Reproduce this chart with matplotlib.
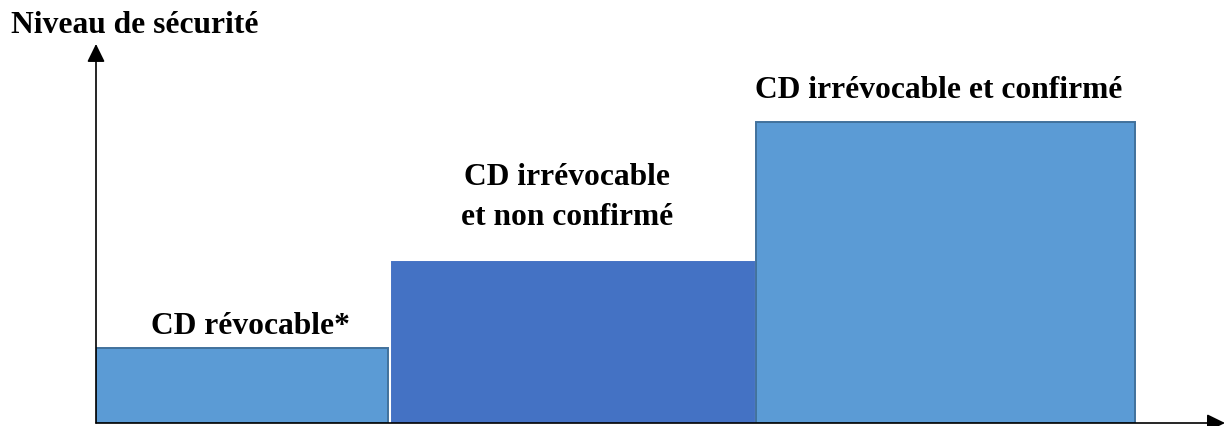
import matplotlib
matplotlib.use("Agg")
import matplotlib.pyplot as plt

# niveaux de sécurité des crédits documentaires (échelle relative 0-10)
labels = ["CD révocable*", "CD irrévocable\net non confirmé", "CD irrévocable et confirmé"]
levels = [1.77, 3.80, 7.10]

# mise en page des marches (unités horizontales arbitraires)
lefts = [0, 296, 660]
widths = [292, 362, 379]
faces = ["#5B9BD5", "#4472C4", "#5B9BD5"]
edges = ["#41719C", "#4472C4", "#41719C"]
label_offsets = [(6, 11), (-4, 27), (-5, 18)]   # points, depuis le haut de chaque barre

plt.rcParams["font.family"] = ["Liberation Serif", "DejaVu Serif"]
FS = 22.7

fig = plt.figure(figsize=(12.26, 4.27), dpi=100, facecolor="white")
ax = fig.add_axes([96 / 1226, 3 / 427, 1130 / 1226, 424 / 427])
ax.set_xlim(0, 1130)
ax.set_ylim(0, 10)
ax.axis("off")

for left, w, h, fc, ec in zip(lefts, widths, levels, faces, edges):
    ax.bar(left, h, width=w, align="edge", color=fc, edgecolor=ec, linewidth=1.4, zorder=2)

for left, w, h, lab, (dx, dy) in zip(lefts, widths, levels, labels, label_offsets):
    ax.annotate(lab, xy=(left + w / 2, h), xytext=(dx, dy), textcoords="offset points",
                ha="center", va="baseline", fontsize=FS, fontweight="bold",
                linespacing=1.5, multialignment="center")

# axes fléchés
arrow = dict(arrowstyle="-|>,head_length=0.55,head_width=0.27", mutation_scale=20,
             color="black", lw=1.2, shrinkA=0, shrinkB=0)
ax.annotate("", xy=(0, 8.94), xytext=(0, 0), arrowprops=arrow, annotation_clip=False, zorder=3)
ax.annotate("", xy=(1129, 0), xytext=(0, 0), arrowprops=arrow, annotation_clip=False, zorder=3)

fig.text(11 / 1226, 1 - 33 / 427, "Niveau de sécurité", ha="left", va="baseline",
         fontsize=FS, fontweight="bold")

fig.savefig("out.png", dpi=100, facecolor="white")
plt.close(fig)
